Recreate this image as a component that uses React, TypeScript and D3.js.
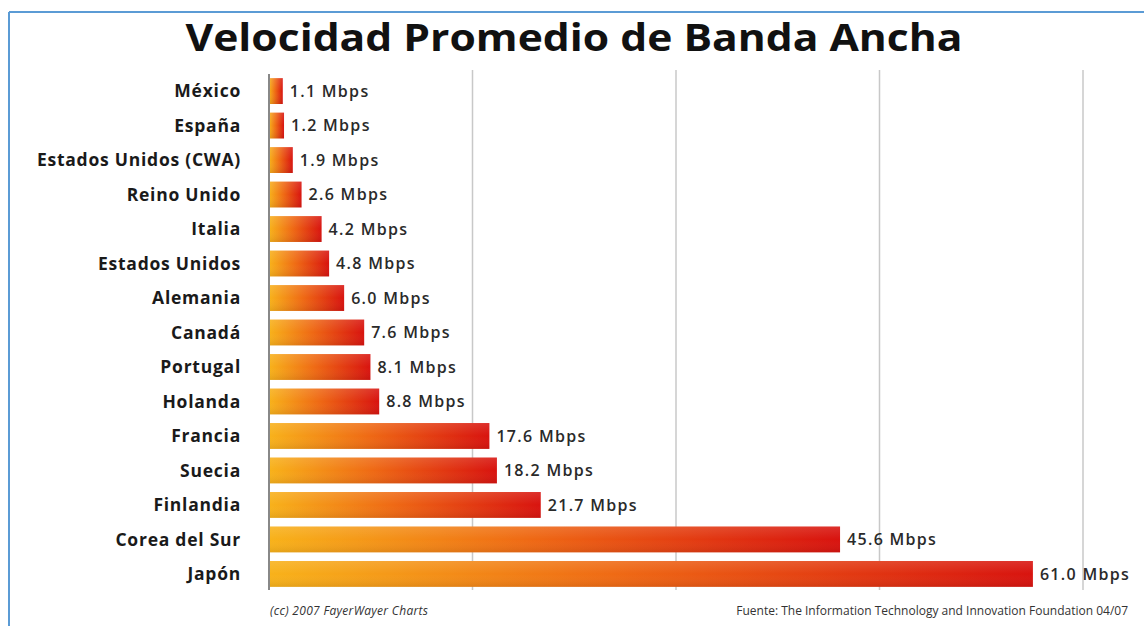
import React from "react";
import * as d3 from "d3";

const countries = [
  "México", "España", "Estados Unidos (CWA)", "Reino Unido", "Italia", "Estados Unidos",
  "Alemania", "Canadá", "Portugal", "Holanda", "Francia", "Suecia", "Finlandia",
  "Corea del Sur", "Japón",
];
const speeds = [1.1, 1.2, 1.9, 2.6, 4.2, 4.8, 6.0, 7.6, 8.1, 8.8, 17.6, 18.2, 21.7, 45.6, 61.0];
const gridValues = [16.25, 32.5, 48.75, 65];
const title = "Velocidad Promedio de Banda Ancha";
const creditLeft = "(cc) 2007 FayerWayer Charts";
const creditRight = "Fuente: The Information Technology and Innovation Foundation 04/07";

const W = 1144;
const H = 626;

export default function App() {
  const x = d3.scaleLinear().domain([0, 65]).range([269, 1083]);
  const y = d3.scaleBand<string>().domain(countries).range([74, 591]).paddingInner(0.25).paddingOuter(0.12);
  const font = "'Open Sans', 'DejaVu Sans', sans-serif";
  return (
    <div style={{ position: "absolute", left: 0, top: 0 }}>
      <svg width={W} height={H} style={{ display: "block", background: "#fff" }}>
        <defs>
          <linearGradient id="barGrad" x1="0" y1="0" x2="1" y2="0">
            <stop offset="0%" stopColor="#f8b21a" />
            <stop offset="45%" stopColor="#ef6a14" />
            <stop offset="100%" stopColor="#d8130f" />
          </linearGradient>
          <linearGradient id="shade" x1="0" y1="0" x2="0" y2="1">
            <stop offset="0%" stopColor="#ffffff" stopOpacity={0.12} />
            <stop offset="50%" stopColor="#ffffff" stopOpacity={0} />
            <stop offset="100%" stopColor="#000000" stopOpacity={0.08} />
          </linearGradient>
        </defs>
        {/* frame */}
        <line x1={9} y1={12} x2={W} y2={12} stroke="#5b9bd5" strokeWidth={2} />
        <line x1={9} y1={12} x2={9} y2={H} stroke="#5b9bd5" strokeWidth={2} />
        <text x={574} y={51} textAnchor="middle" fontFamily={font} fontWeight={700} fontSize={37}
          textLength={777} lengthAdjust="spacingAndGlyphs" fill="#111">
          {title}
        </text>
        {gridValues.map((g) => (
          <line key={g} x1={x(g)} x2={x(g)} y1={70} y2={590} stroke="#c8c8c8" strokeWidth={1.5} />
        ))}
        {countries.map((c, i) => {
          const yy = y(c)!;
          const bw = y.bandwidth();
          return (
            <g key={c}>
              <rect x={x(0)} y={yy} width={x(speeds[i]) - x(0)} height={bw} fill="url(#barGrad)" />
              <rect x={x(0)} y={yy} width={x(speeds[i]) - x(0)} height={bw} fill="url(#shade)" />
              <text x={241} y={yy + bw / 2} dy="0.35em" textAnchor="end" fontFamily={font} fontWeight={700}
                fontSize={17.5} letterSpacing={0.75} fill="#1a1a1a">
                {c}
              </text>
              <text x={x(speeds[i]) + 7} y={yy + bw / 2} dy="0.35em" fontFamily={font} fontWeight={600}
                fontSize={16} letterSpacing={1.3} fill="#2a2a2a">
                {speeds[i].toFixed(1)} Mbps
              </text>
            </g>
          );
        })}
        <line x1={x(0)} x2={x(0)} y1={74} y2={590} stroke="#888" strokeWidth={2} />
        <text x={270} y={615} fontFamily={font} fontStyle="italic" fontSize={12} letterSpacing={0.3} fill="#333">
          {creditLeft}
        </text>
        <text x={1128} y={615} textAnchor="end" fontFamily={font} fontSize={12} fill="#333">
          {creditRight}
        </text>
      </svg>
    </div>
  );
}
